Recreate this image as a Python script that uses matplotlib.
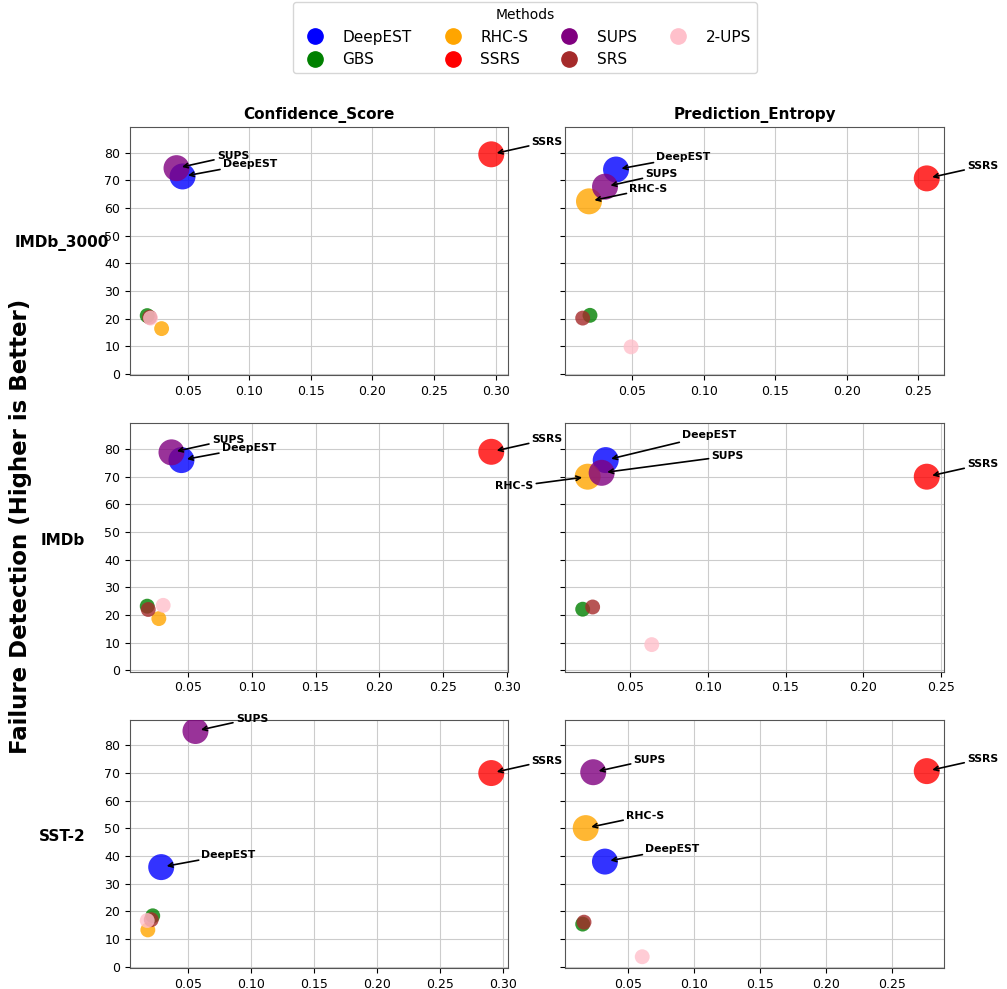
import matplotlib
matplotlib.use("Agg")
import matplotlib.pyplot as plt
from matplotlib.lines import Line2D

# Methods in plotting / legend order
METHODS = ["DeepEST", "GBS", "RHC-S", "SSRS", "SUPS", "SRS", "2-UPS"]
COLORS = ["blue", "green", "orange", "red", "purple", "brown", "pink"]

DATASETS = ["IMDb_3000", "IMDb", "SST-2"]
METRICS = ["Confidence_Score", "Prediction_Entropy"]

# x: selection cost, y: failure detection (%), one value per method
imdb3000_conf_x = [0.0457, 0.0170, 0.0287, 0.2965, 0.0408, 0.0190, 0.0197]
imdb3000_conf_y = [71.4, 21.1, 16.4, 79.4, 74.4, 20.5, 20.2]
imdb3000_ent_x = [0.0388, 0.0206, 0.0199, 0.2559, 0.0311, 0.0155, 0.0493]
imdb3000_ent_y = [73.9, 21.2, 62.4, 70.7, 67.7, 20.2, 9.8]

imdb_conf_x = [0.0451, 0.0183, 0.0274, 0.2875, 0.0373, 0.0191, 0.0308]
imdb_conf_y = [76.0, 23.2, 18.7, 79.0, 78.8, 22.0, 23.5]
imdb_ent_x = [0.0344, 0.0196, 0.0228, 0.2408, 0.0318, 0.0260, 0.0640]
imdb_ent_y = [76.0, 22.1, 70.0, 70.0, 71.4, 22.9, 9.3]

sst2_conf_x = [0.0289, 0.0222, 0.0183, 0.2908, 0.0561, 0.0210, 0.0178]
sst2_conf_y = [36.0, 18.4, 13.3, 70.0, 85.2, 17.0, 16.7]
sst2_ent_x = [0.0323, 0.0154, 0.0177, 0.2766, 0.0234, 0.0164, 0.0606]
sst2_ent_y = [38.0, 15.4, 50.1, 70.7, 70.3, 16.1, 3.6]

results = {
    ("IMDb_3000", "Confidence_Score"): (imdb3000_conf_x, imdb3000_conf_y),
    ("IMDb_3000", "Prediction_Entropy"): (imdb3000_ent_x, imdb3000_ent_y),
    ("IMDb", "Confidence_Score"): (imdb_conf_x, imdb_conf_y),
    ("IMDb", "Prediction_Entropy"): (imdb_ent_x, imdb_ent_y),
    ("SST-2", "Confidence_Score"): (sst2_conf_x, sst2_conf_y),
    ("SST-2", "Prediction_Entropy"): (sst2_ent_x, sst2_ent_y),
}

# methods above this detection rate get a big marker and a label
HIGHLIGHT = 30
DEFAULT_OFFSET = (29, 9)
# hand-placed labels where the default would collide
label_offsets = {
    ("IMDb", "Prediction_Entropy", "DeepEST"): (55, 18),
    ("IMDb", "Prediction_Entropy", "SUPS"): (79, 12),
    ("IMDb", "Prediction_Entropy", "RHC-S"): (-39, -7),
}

fig, axes = plt.subplots(3, 2, figsize=(10.07, 9.89), dpi=100, sharey=True)
fig.subplots_adjust(left=0.1291, right=0.9374, top=0.8716, bottom=0.0212,
                    wspace=0.1506, hspace=0.1935)

for i, ds in enumerate(DATASETS):
    for j, metric in enumerate(METRICS):
        ax = axes[i, j]
        xs, ys = results[(ds, metric)]
        for m, c, x, y in zip(METHODS, COLORS, xs, ys):
            big = y >= HIGHLIGHT
            ax.scatter(x, y, s=350 if big else 115, color=c, alpha=0.8,
                       edgecolors="none", zorder=3)
            if big:
                off = label_offsets.get((ds, metric, m), DEFAULT_OFFSET)
                ax.annotate(
                    m, xy=(x, y), xytext=off, textcoords="offset points",
                    ha="left" if off[0] > 0 else "right", va="center",
                    fontsize=7.8, fontweight="bold",
                    arrowprops=dict(arrowstyle="->", color="black", lw=1.2,
                                    shrinkA=0, shrinkB=4),
                    zorder=4,
                )
        ax.grid(True, color="#cccccc", linewidth=0.8)
        ax.set_axisbelow(True)
        ax.tick_params(labelsize=9)
        for sp in ax.spines.values():
            sp.set_edgecolor("#555555")
        if i == 0:
            ax.set_title(metric, fontsize=11, fontweight="bold")
        if j == 0:
            ax.set_ylabel(ds, rotation=0, fontsize=11, fontweight="bold")
            ax.yaxis.set_label_coords(-0.179, 0.5)

fig.text(0.02, 0.468, "Failure Detection (Higher is Better)", rotation=90,
         ha="center", va="center", fontsize=16.5, fontweight="bold")

handles = [Line2D([], [], marker="o", linestyle="", color=c, markersize=11,
                  label=m) for m, c in zip(METHODS, COLORS)]
fig.legend(handles=handles, title="Methods", loc="upper center",
           bbox_to_anchor=(0.5214, 0.998), borderaxespad=0, ncol=4,
           fontsize=11, title_fontsize=10, columnspacing=1.7,
           handletextpad=0.8)

fig.savefig("out.png", dpi=100)
